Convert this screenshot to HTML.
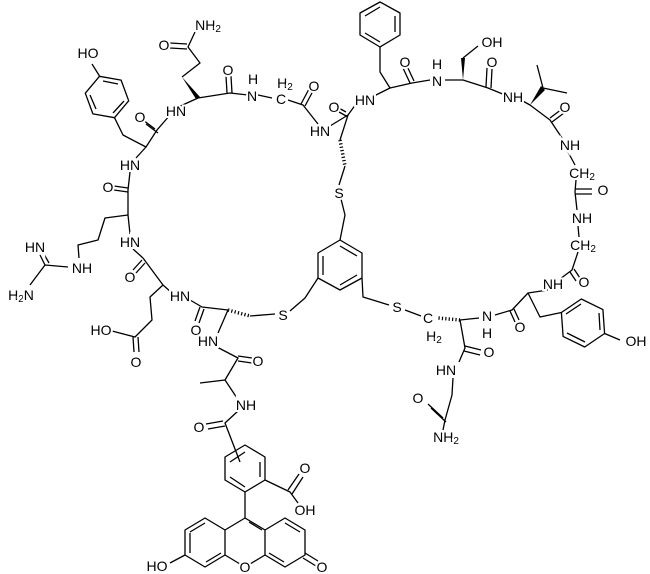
<!DOCTYPE html>
<html><head><meta charset="utf-8"><style>
html,body{margin:0;padding:0;background:#fff;}
svg{display:block}
text{font-family:"Liberation Sans",sans-serif;font-size:14px;fill:#000;text-anchor:middle;dominant-baseline:central;stroke:#fff;stroke-width:4px;paint-order:stroke fill;}
tspan.s{font-size:10px}
</style></head><body>
<svg width="650" height="574" viewBox="0 0 650 574" xmlns="http://www.w3.org/2000/svg">
<g fill="none" stroke="#000" stroke-width="1.3" stroke-linejoin="round">
<!-- Gln -->
<path d="M195 32 L188 47 L200 63 L182 77"/>
<path d="M187 44 L170 43 M187 49 L170 48"/>
<path d="M198 98 L176 108 M198 98 L230 93 L248 95"/>
<path d="M227 93 L226 76 M232 93 L231 76"/>
<path d="M258 95 L272 98 M288 100 L303 105 L318 124"/>
<path d="M301 104 L309 89 M305 106 L313 91"/>
<!-- Cys top -->
<path d="M330 126 L348 115 L356 104"/>
<path d="M346 112 L337 107 M348 117 L339 112"/>
<path d="M348 115 L340 140"/>
<path d="M345 166 L339 185 M341 199 L345 215 L340 240"/>
<!-- central ring -->
<path d="M340 240 L362 253 L362 278 L340 290 L318 278 L318 253 Z"/>
<path d="M340 246 L357 256 M357 275 L340 285 M323 275 L323 256"/>
<path d="M318 278 L305 298 L290 311"/>
<path d="M362 278 L363 297 L389 305 M405 310 L421 316"/>
<!-- Tyr left -->
<path d="M99.5 76.3 L121.1 80.1 L128.7 100.8 L114.5 117.7 L92.9 113.9 L85.3 93.2 Z"/>
<path d="M103 81 L118 84 M124 101 L113 113 M96 109 L90 95"/>
<path d="M99.5 76 L92 64"/>
<path d="M114.5 117.7 L123 135 L146 147 L157 130 L170 115"/>
<path d="M155 129 L143 120 M158 133 L146 124"/>
<path d="M146 147 L136 158 M130 172 L128 190 L128 215"/>
<path d="M128 188 L114 186 M128 192 L114 190"/>
<!-- Arg -->
<path d="M128 215 L105 218 L98 240 L78 245 L79 258"/>
<path d="M68 267 L45 265 L30 285"/>
<path d="M45 265 L40 255 M49 263 L44 254"/>
<path d="M128 215 L130 234 M133 249 L143 258"/>
<path d="M142 260 L133 270 M145 263 L136 273"/>
<!-- Glu -->
<path d="M143 258 L163 285 L150 297 L152 320 L135 337 L112 331"/>
<path d="M133 337 L134 352 M138 337 L139 352"/>
<path d="M163 285 L172 293 M190 300 L202 307 L228 310"/>
<path d="M200 307 L195 321 M204 309 L199 323"/>
<!-- Cys lower left -->
<path d="M250 316 L275 314"/>
<path d="M228 310 L218 333 M215 346 L238 358 L225 380 L200 383"/>
<path d="M238 356 L252 358 M238 361 L252 363"/>
<path d="M225 380 L237 398 M238 411 L225 423 L240 462"/>
<path d="M223 421 L206 424 M225 426 L208 429"/>
<!-- fluorescein phenyl -->
<path d="M225 457 L245 445 L265 457 L265 480 L245 492 L225 480 Z"/>
<path d="M230 462 L245 452 M260 462 L260 477 M245 487 L230 477"/>
<path d="M265 480 L290 492 L298 503"/>
<path d="M288 490 L299 474 M292 494 L303 477"/>
<path d="M245 492 L245 518"/>
<!-- xanthene -->
<path d="M245 518 L225 530 L225 555 L240 564 M250 564 L265 555 L265 530 L245 518"/>
<path d="M225 530 L205 518 L185 530 L185 555 L205 567 L225 555"/>
<path d="M265 530 L285 518 L305 530 L305 555 L285 567 L265 555"/>
<path d="M205 523 L190 532 M190 553 L190 533 M221 553 L206 562 M249 522 L262 530"/>
<path d="M285 523 L300 532 M269 553 L284 562"/>
<path d="M185 555 L170 563"/>
<path d="M305 553 L318 561 M303 558 L316 566"/>
<!-- Phe -->
<path d="M360 13 L380 2 L400 13 L400 35 L380 47 L360 35 Z"/>
<path d="M365 16 L380 7 M395 16 L395 32 M380 42 L365 33"/>
<path d="M380 47 L380 72 L390 88 L372 97 M390 88 L412 83 L430 80"/>
<path d="M410 83 L403 68 M414 81 L407 66"/>
<!-- Ser -->
<path d="M445 80 L463 80 L488 88 L505 95"/>
<path d="M463 58 L478 46"/>
<path d="M486 87 L487 68 M491 88 L492 69"/>
<!-- Val -->
<path d="M521 100 L530 105 L550 120 L562 138"/>
<path d="M543 88 L537 65 M543 88 L567 93"/>
<path d="M550 118 L562 109 M552 122 L564 113"/>
<!-- Gly Gly -->
<path d="M568 152 L575 165 M576 180 L575 192 L577 210"/>
<path d="M575 189 L592 189 M575 194 L592 194"/>
<path d="M578 226 L579 237 M578 252 L572 270 L560 279"/>
<path d="M570 272 L576 281 M574 269 L580 278"/>
<!-- Tyr right -->
<path d="M548 290 L528 293 L512 310 L495 315"/>
<path d="M510 311 L515 322 M514 309 L519 320"/>
<path d="M528 293 L540 317 L561.4 312.5"/>
<path d="M604.6 333.5 L584.7 347 L563.1 336.4 L561.4 312.5 L581.3 299 L602.9 309.6 Z"/>
<path d="M585 342 L567 333 M566 314 L581 304 M599 313 L600 330"/>
<path d="M604.6 333.5 L620 340"/>
<!-- Cys right -->
<path d="M479 318 L460 320 L465 348 L459 362"/>
<path d="M465 346 L481 350 M464 351 L480 355"/>
<path d="M453 378 L452 395 L445 420 L443 430"/>
<path d="M443 418 L428 404 M446 422 L431 408"/>
</g>
<!-- wedges -->
<g fill="#000">
<polygon points="182,77 196,99 200,97"/>
<polygon points="463,80 461,58 465,58"/>
<polygon points="530,105 541,86 545,90"/>
</g>
<!-- hashed -->
<g stroke="#000" stroke-width="3.5" stroke-dasharray="1.2 2.2" fill="none">
<path d="M340 140 L345 166"/>
<path d="M228 310 L250 316"/>
<path d="M460 320 L438 318"/>
</g>
<!-- labels -->
<text x="208" y="25">NH<tspan class="s" dy="4">2</tspan></text>
<text x="164" y="45">O</text>
<text x="228" y="70">O</text>
<text x="176" y="111">HN</text>
<text x="253" y="79">H</text>
<text x="252" y="96">N</text>
<text x="281" y="99">C</text>
<text x="285" y="83">H<tspan class="s" dy="4">2</tspan></text>
<text x="314" y="86">O</text>
<text x="320" y="131">HN</text>
<text x="334" y="107">O</text>
<text x="365" y="100">HN</text>
<text x="339" y="193">S</text>
<text x="88" y="53">HO</text>
<text x="140" y="117">O</text>
<text x="130" y="165">HN</text>
<text x="108" y="187">O</text>
<text x="130" y="242">HN</text>
<text x="82" y="268">NH</text>
<text x="35" y="247">HN</text>
<text x="21" y="295">H<tspan class="s" dy="4">2</tspan><tspan dy="-4">N</tspan></text>
<text x="130" y="277">O</text>
<text x="101" y="330">HO</text>
<text x="136" y="362">O</text>
<text x="180" y="296">HN</text>
<text x="196" y="330">O</text>
<text x="283" y="315">S</text>
<text x="208" y="341">HN</text>
<text x="258" y="361">O</text>
<text x="246" y="405">NH</text>
<text x="199" y="427">O</text>
<text x="305" y="468">O</text>
<text x="305" y="510">OH</text>
<text x="245" y="567">O</text>
<text x="157" y="566">HO</text>
<text x="322" y="567">O</text>
<text x="405" y="62">O</text>
<text x="437" y="64">H</text>
<text x="437" y="81">N</text>
<text x="492" y="42">OH</text>
<text x="492" y="62">O</text>
<text x="513" y="97">NH</text>
<text x="565" y="107">O</text>
<text x="570" y="145">NH</text>
<text x="582" y="173">CH<tspan class="s" dy="4">2</tspan></text>
<text x="603" y="190">O</text>
<text x="582" y="218">NH</text>
<text x="583" y="245">CH<tspan class="s" dy="4">2</tspan></text>
<text x="584" y="282">O</text>
<text x="553" y="284">NH</text>
<text x="520" y="327">O</text>
<text x="636" y="341">OH</text>
<text x="487" y="316">N</text>
<text x="487" y="333">H</text>
<text x="397" y="307">S</text>
<text x="428" y="318">C</text>
<text x="434" y="336">H<tspan class="s" dy="4">2</tspan></text>
<text x="489" y="352">O</text>
<text x="446" y="370">HN</text>
<text x="418" y="398">O</text>
<text x="446" y="437">NH<tspan class="s" dy="4">2</tspan></text>
</svg>
</body></html>
